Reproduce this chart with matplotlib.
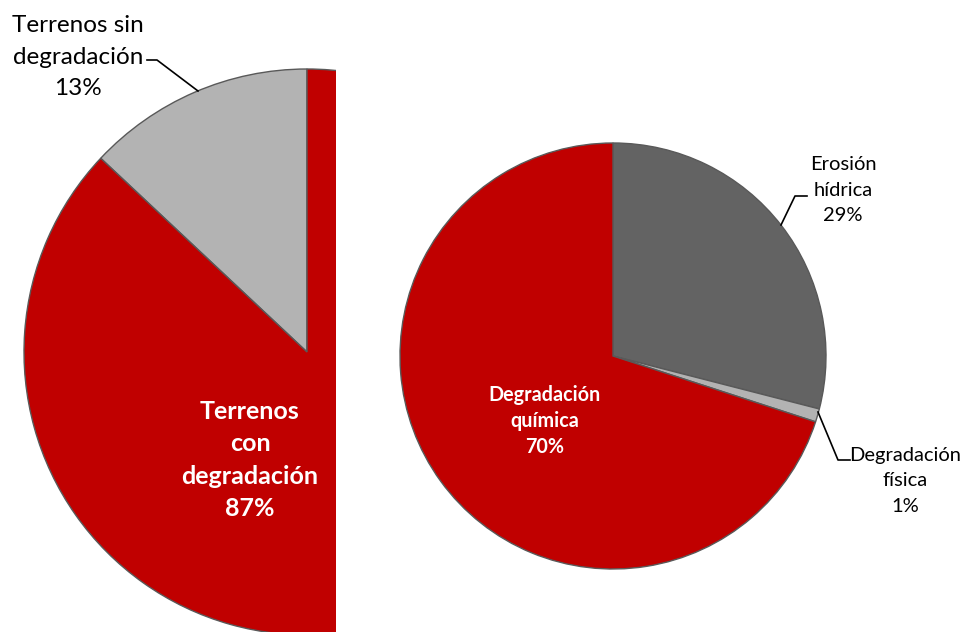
import matplotlib
matplotlib.use("Agg")
import matplotlib.pyplot as plt
from matplotlib.patches import Rectangle

plt.rcParams["font.family"] = ["Lato", "DejaVu Sans"]

# ── data ────────────────────────────────────────────────────────────────────
left_labels = ["Terrenos sin\ndegradación", "Terrenos\ncon\ndegradación"]
left_values = [13, 87]
left_colors = ["#B3B3B3", "#C00000"]

right_labels = ["Erosión\nhídrica", "Degradación\nfísica", "Degradación\nquímica"]
right_values = [29, 1, 70]
right_colors = ["#636363", "#B3B3B3", "#C00000"]

W, H = 964, 632
EDGE = "#595959"


def py(y):
    # pixel row (top origin) -> data y (bottom origin)
    return H - y


fig = plt.figure(figsize=(W / 100, H / 100), dpi=100)
ax = fig.add_axes([0, 0, 1, 1])

# ── left pie (cut at the right side) ────────────────────────────────────────
lw, _ = ax.pie(left_values, colors=left_colors, startangle=90, counterclock=True,
               center=(307, py(352)), radius=283,
               wedgeprops=dict(edgecolor=EDGE, linewidth=1.0))
clip = Rectangle((0, 0), 336, H, transform=ax.transData)
for w in lw:
    w.set_clip_on(True)
    w.set_clip_path(clip)

# ── right pie ───────────────────────────────────────────────────────────────
ax.pie(right_values, colors=right_colors, startangle=90, counterclock=False,
       center=(613, py(356)), radius=213,
       wedgeprops=dict(edgecolor=EDGE, linewidth=1.0))

ax.set_xlim(0, W)
ax.set_ylim(0, H)
ax.set_aspect("equal")
ax.axis("off")

# ── labels ──────────────────────────────────────────────────────────────────
ax.text(78, py(57), f"{left_labels[0]}\n{left_values[0]}%", ha="center", va="center",
        fontsize=17.5, color="#000000", linespacing=1.6)
ax.plot([147, 157, 198], [py(60), py(60), py(91)], color="#000000", lw=1.2)

ax.text(250, py(460), f"{left_labels[1]}\n{left_values[1]}%", ha="center", va="center",
        fontsize=18, fontweight="bold", color="white", linespacing=1.48)

ax.text(843, py(190), f"{right_labels[0]}\n{right_values[0]}%", ha="center", va="center",
        fontsize=14.5, color="#000000", linespacing=1.6)
ax.plot([807, 795, 781], [py(196), py(196), py(225)], color="#000000", lw=1.2)

ax.text(905, py(481), f"{right_labels[1]}\n{right_values[1]}%", ha="center", va="center",
        fontsize=14.5, color="#000000", linespacing=1.6)
ax.plot([818, 838, 850], [py(412), py(460), py(460)], color="#000000", lw=1.2)

ax.text(545, py(421), f"{right_labels[2]}\n{right_values[2]}%", ha="center", va="center",
        fontsize=14.2, fontweight="bold", color="white", linespacing=1.4)

fig.savefig("out.png", dpi=100)
